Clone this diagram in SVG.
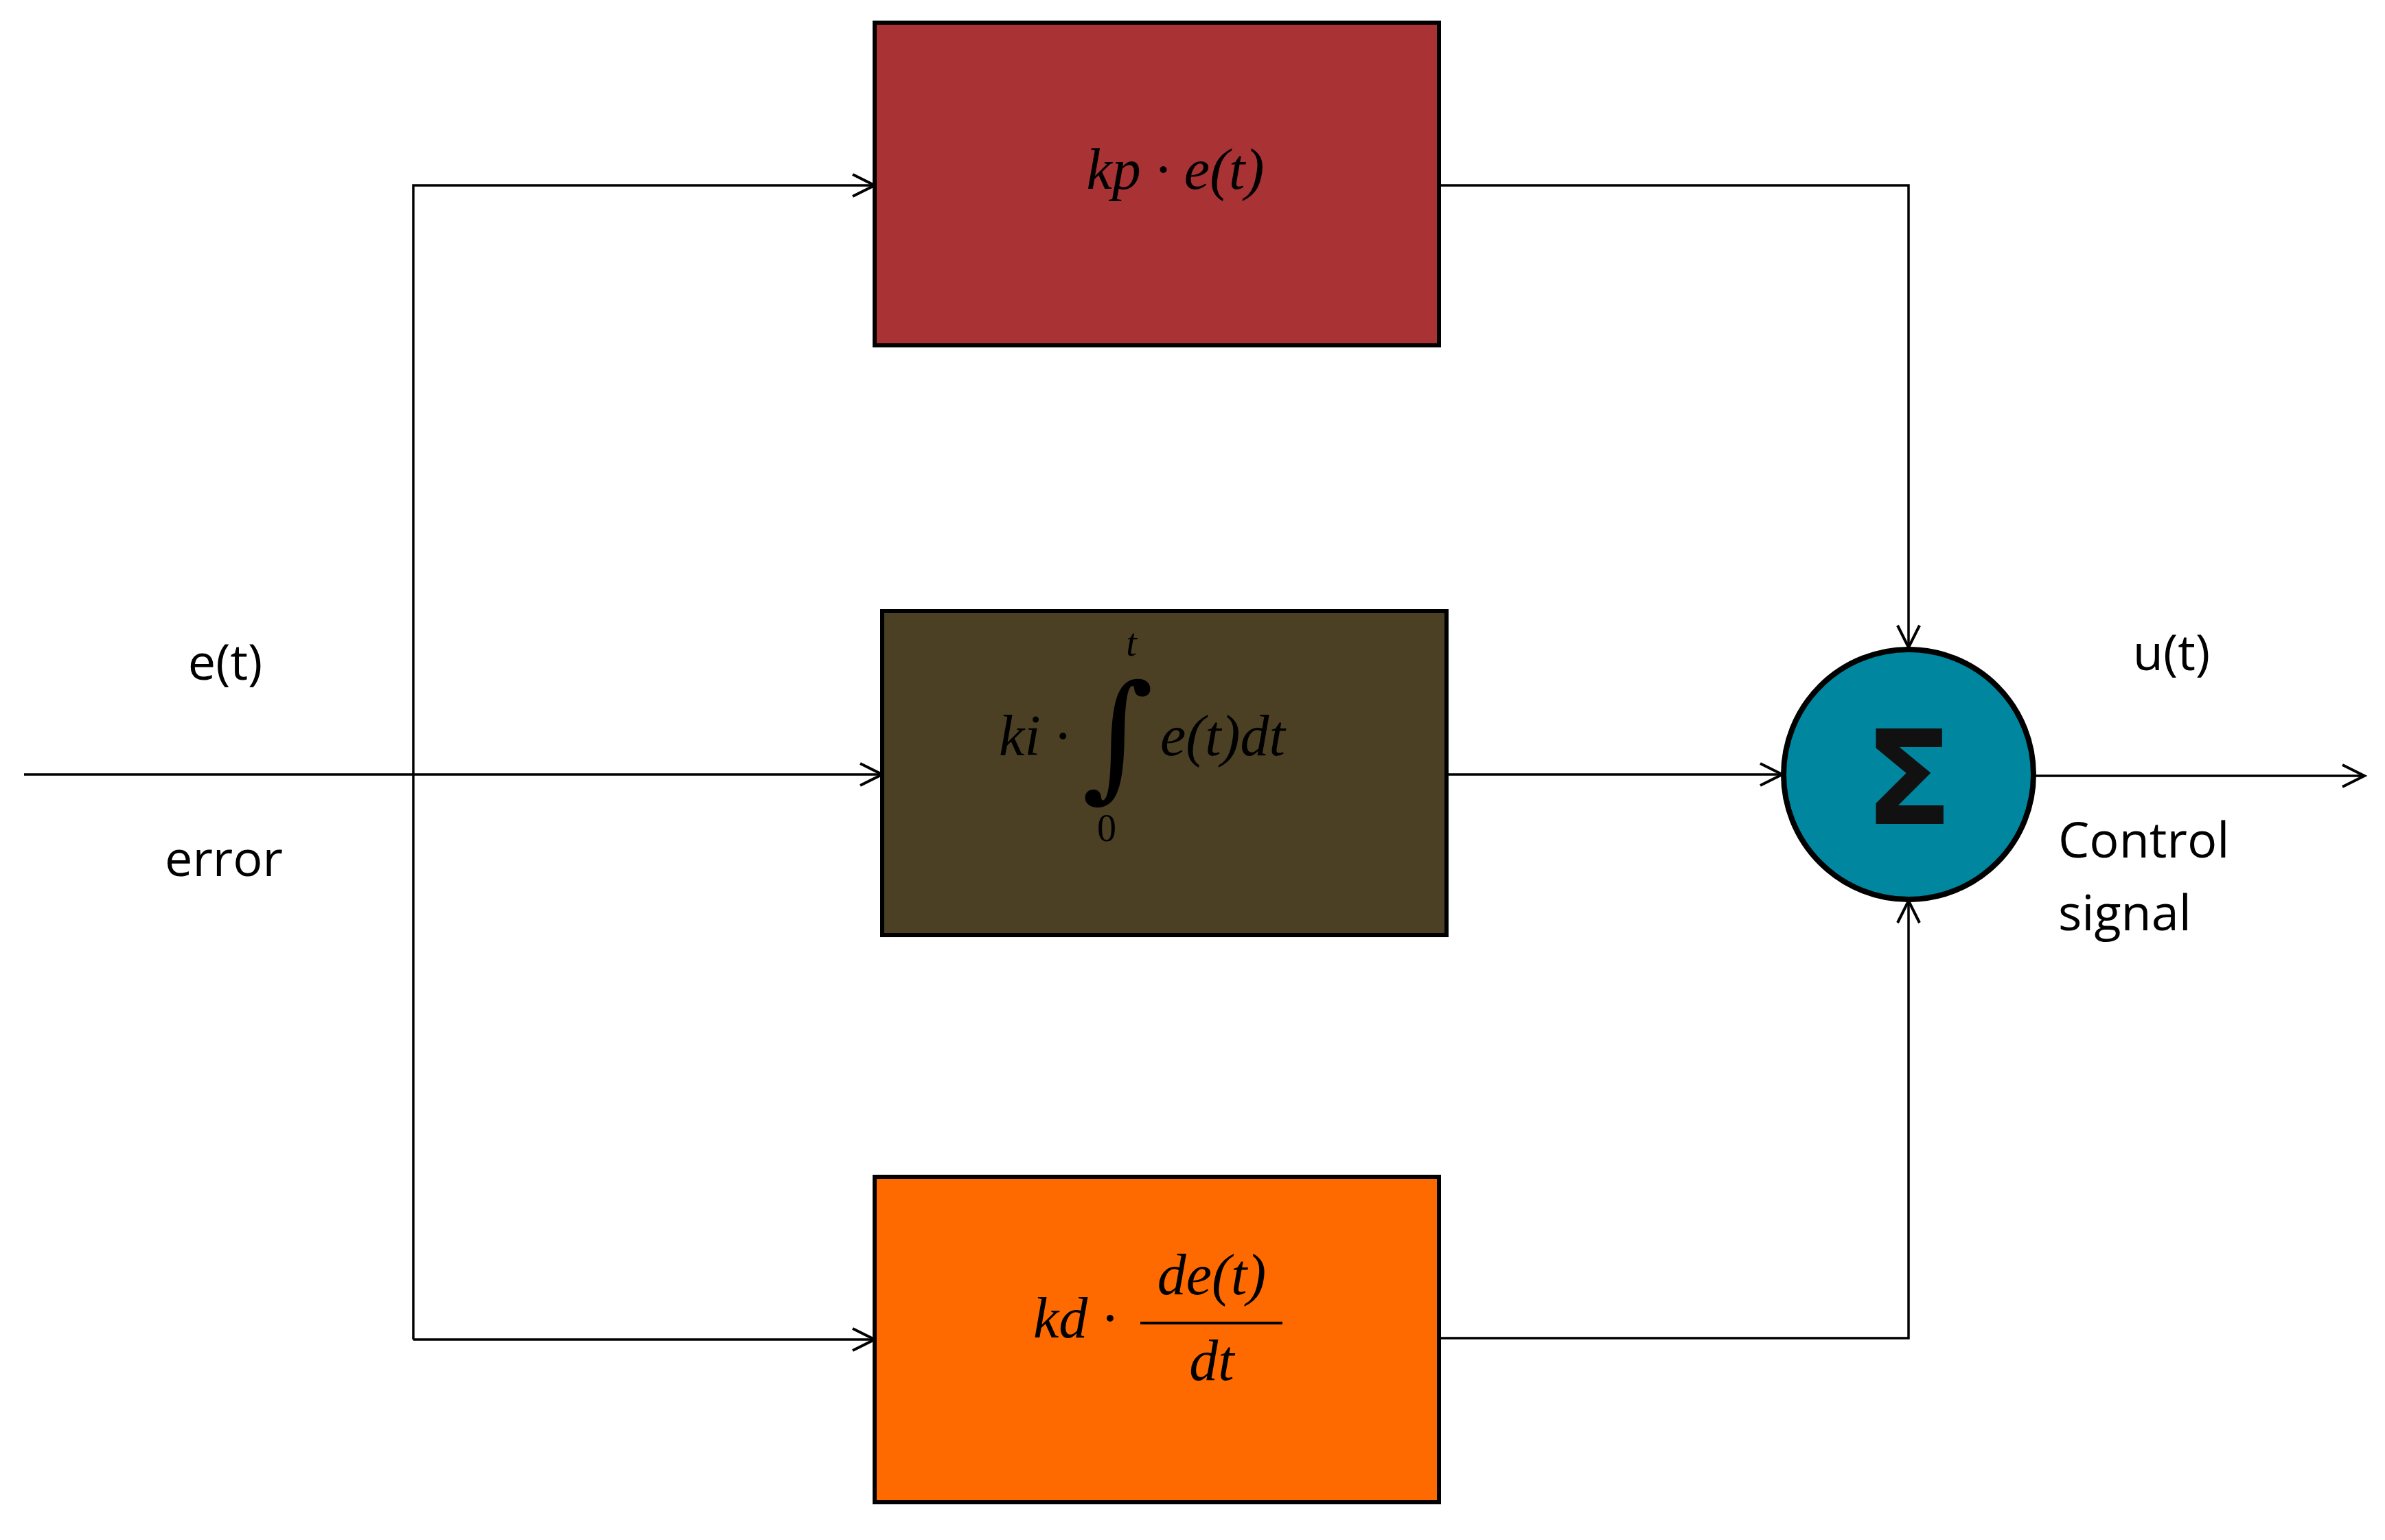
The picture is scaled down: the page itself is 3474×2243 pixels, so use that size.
<svg xmlns="http://www.w3.org/2000/svg" width="3474" height="2243" viewBox="0 0 3474 2243">
<style>
.ln{fill:none;stroke:#000;stroke-width:3.5}
.bx{stroke:#000;stroke-width:6}
.m{font-family:"Liberation Serif","DejaVu Serif",serif;font-style:italic;font-size:84px;fill:#000}
.t{font-family:"Open Sans","Liberation Sans",sans-serif;font-size:72px;fill:#000}
</style>
<defs>
<marker id="a" markerWidth="40" markerHeight="40" refX="34" refY="18" orient="auto" markerUnits="userSpaceOnUse" viewBox="0 0 40 40">
<path d="M2,2 L34,18 L2,34" fill="none" stroke="#000" stroke-width="4"/>
</marker>
</defs>
<rect width="3474" height="2243" fill="#fff"/>
<g id="connectors">
<path class="ln" d="M35,1128 H1285" marker-end="url(#a)"/>
<path class="ln" d="M602,1951 V270 H1274" marker-end="url(#a)"/>
<path class="ln" d="M602,1951 H1274" marker-end="url(#a)"/>
<path class="ln" d="M2096,270 H2780 V943" marker-end="url(#a)"/>
<path class="ln" d="M2096,1949 H2780 V1312" marker-end="url(#a)"/>
<path class="ln" d="M2107,1128 H2596" marker-end="url(#a)"/>
<path class="ln" d="M2964,1130 H3444" marker-end="url(#a)"/>
</g>
<g id="node-p">
<rect class="bx" x="1274" y="33" width="822" height="470" fill="#A93234"/>
<text class="m" x="1712" y="275" text-anchor="middle">kp · e(t)</text>
</g>
<g id="node-i">
<rect class="bx" x="1285" y="890" width="822" height="472" fill="#4B4024"/>
<text class="m" x="1455" y="1100">ki ·</text>
<text x="1628" y="1140" style="font-family:'DejaVu Serif',serif;font-size:200px;font-style:normal" text-anchor="middle">∫</text>
<text class="m" x="1648" y="955" style="font-size:56px" text-anchor="middle">t</text>
<text class="m" x="1612" y="1225" style="font-size:56px;font-style:normal" text-anchor="middle">0</text>
<text class="m" x="1690" y="1100">e(t)dt</text>
</g>
<g id="node-d">
<rect class="bx" x="1274" y="1714" width="822" height="474" fill="#FF6A00"/>
<text class="m" x="1505" y="1948">kd ·</text>
<text class="m" x="1765" y="1885" text-anchor="middle">de(t)</text>
<line x1="1661" y1="1927" x2="1868" y2="1927" stroke="#000" stroke-width="4"/>
<text class="m" x="1765" y="2010" text-anchor="middle">dt</text>
</g>
<g id="node-sum">
<circle cx="2780" cy="1128" r="182" fill="#00869E" stroke="#000" stroke-width="8"/>
<text x="2780" y="1200" font-family="DejaVu Sans,sans-serif" font-size="190" font-weight="bold" text-anchor="middle" fill="#111">Σ</text>
</g>
<g id="labels">
<text class="t" x="328" y="990" text-anchor="middle">e(t)</text>
<text class="t" x="326" y="1276" text-anchor="middle">error</text>
<text class="t" x="3163" y="976" text-anchor="middle">u(t)</text>
<text class="t" x="2998" y="1249">Control</text>
<text class="t" x="2998" y="1355">signal</text>
</g>
</svg>
